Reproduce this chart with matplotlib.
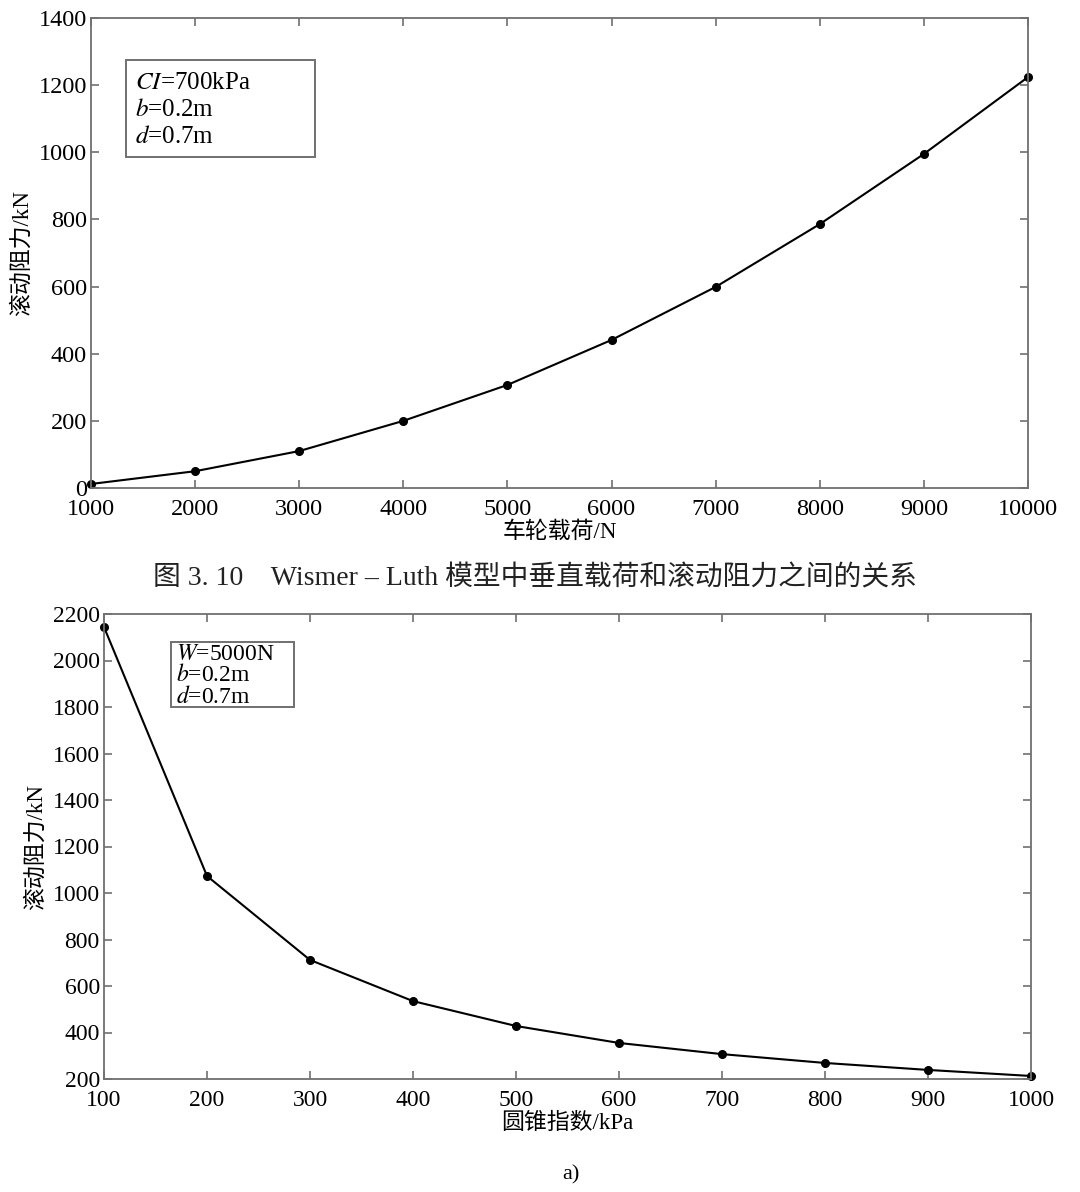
import matplotlib.pyplot as plt
from matplotlib.patches import Rectangle

plt.rcParams['font.family'] = ['Liberation Serif', 'Noto Sans CJK SC']
plt.rcParams['mathtext.fontset'] = 'stix'

# top chart: vertical load vs rolling resistance
load = [1000, 2000, 3000, 4000, 5000, 6000, 7000, 8000, 9000, 10000]
resist_load = [12, 50, 110, 200, 307, 441, 599, 786, 995, 1224]

# bottom chart: cone index vs rolling resistance
cone = [100, 200, 300, 400, 500, 600, 700, 800, 900, 1000]
resist_cone = [2144, 1073, 712, 535, 428, 355, 307, 269, 239, 213]

FAM = ['Liberation Serif', 'Noto Sans CJK SC']
GRAY = '#707070'

fig = plt.figure(figsize=(10.8, 11.92), dpi=100)
W, H = 1080, 1192


def style(ax):
    for s in ax.spines.values():
        s.set_color(GRAY)
        s.set_linewidth(1.3)
    ax.tick_params(direction='in', top=True, right=True, color=GRAY,
                   length=6, width=1.2)
    ax.tick_params(axis='x', pad=8)
    ax.tick_params(axis='y', pad=3)


def note(ax, x0, y0, x1, y1, txt, size, ls, tx, ty):
    ax.add_patch(Rectangle((x0, y0), x1 - x0, y1 - y0, transform=ax.transAxes,
                           fc='white', ec=GRAY, lw=1.4, zorder=3))
    ax.text(tx, ty, txt, transform=ax.transAxes, fontsize=size, va='top',
            ha='left', linespacing=ls, zorder=4)


ax1 = fig.add_axes([91 / W, 1 - 488 / H, (1028 - 91) / W, (488 - 18) / H])
ax1.plot(load, resist_load, '-o', color='black', lw=1.5, ms=5.5, clip_on=False)
ax1.set_xlim(1000, 10000)
ax1.set_ylim(0, 1400)
ax1.set_xticks(load)
ax1.set_yticks(range(0, 1401, 200))
style(ax1)
ax1.tick_params(labelsize=17.5)
ax1.set_xlabel('车轮载荷/N', family=FAM, fontsize=16.5, labelpad=1)
ax1.set_ylabel('滚动阻力/kN', family=FAM, fontsize=16.5, labelpad=4)
note(ax1, 0.0374, 0.704, 0.239, 0.911, '$CI$=700kPa\n$b$=0.2m\n$d$=0.7m',
     18, 1.3, 0.047, 0.885)

ax2 = fig.add_axes([104 / W, 1 - 1079 / H, (1031 - 104) / W, (1079 - 614) / H])
ax2.plot(cone, resist_cone, '-o', color='black', lw=1.5, ms=5.5, clip_on=False)
ax2.set_xlim(100, 1000)
ax2.set_ylim(200, 2200)
ax2.set_xticks(cone)
ax2.set_yticks(range(200, 2201, 200))
style(ax2)
ax2.tick_params(labelsize=17)
ax2.set_xlabel('圆锥指数/kPa', family=FAM, fontsize=16.5, labelpad=1)
ax2.set_ylabel('滚动阻力/kN', family=FAM, fontsize=16.5, labelpad=4)
note(ax2, 0.0723, 0.800, 0.205, 0.940, '$W$=5000N\n$b$=0.2m\n$d$=0.7m',
     17, 0.95, 0.078, 0.935)

fig.text(535 / W, 1 - 578 / H, '图 3. 10    Wismer – Luth 模型中垂直载荷和滚动阻力之间的关系',
         family=FAM, fontsize=20, ha='center', va='center', color='#222222')
fig.text(571 / W, 1 - 1175 / H, 'a)', fontsize=16, ha='center', va='center')

fig.savefig('out.png', dpi=100)
